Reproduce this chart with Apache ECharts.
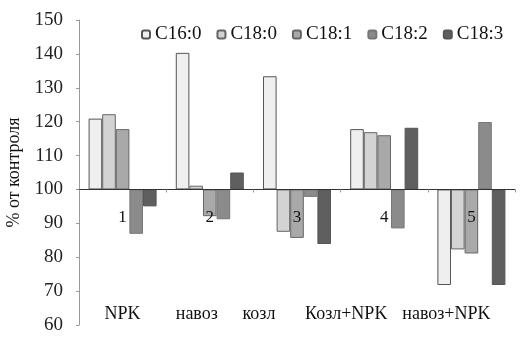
<!DOCTYPE html>
<html><head><meta charset="utf-8">
<script src="https://cdn.jsdelivr.net/npm/echarts@6/dist/echarts.min.js"></script>
<style>html,body{margin:0;padding:0;background:#fff}#c{width:525px;height:337px}</style>
</head><body><div id="c"></div>
<script>
const categories = ['NPK', 'навоз', 'козл', 'Козл+NPK', 'навоз+NPK'];
const groupNumbers = ['1', '2', '3', '4', '5'];
const seriesNames = ['C16:0', 'C18:0', 'C18:1', 'C18:2', 'C18:3'];
const c16_0 = [120.9, 140.3, 133.4, 117.8, 71.8];
const c18_0 = [122.2, 101.1, 87.5, 116.9, 82.3];
const c18_1 = [117.8, 92.1, 85.7, 116.0, 81.1];
const c18_2 = [86.9, 91.2, 97.8, 88.5, 119.9];
const c18_3 = [95.0, 105.0, 83.9, 118.2, 71.8];
const yTicks = [60, 70, 80, 90, 100, 110, 120, 130, 140, 150];
const baseValue = 100;

const values = [c16_0, c18_0, c18_1, c18_2, c18_3];
const fills = ['#efefef', '#d3d3d3', '#a9a9a9', '#8b8b8b', '#5f5f5f'];
const borders = ['#555', '#666', '#666', '#777', '#555'];
const font = 'Liberation Serif';
const shifts = [0, -13, -38, -38, -25];

const W = 525, H = 337;
const grid = { left: 79, right: 10, top: 20, bottom: 12 };
const yMin = yTicks[0] - baseValue, yMax = yTicks[yTicks.length - 1] - baseValue;
const gridH = H - grid.top - grid.bottom;
const zeroOffset = -gridH * (0 - yMin) / (yMax - yMin);

const chart = echarts.init(document.getElementById('c'));
const rich = {};
shifts.forEach((s, i) => { rich['l' + i] = { fontFamily: font, fontSize: 18, color: '#111', padding: [0, -2 * s, 0, 0] }; });

chart.setOption({
  animation: false,
  textStyle: { fontFamily: font },
  grid: Object.assign({ containLabel: false, outerBoundsMode: 'none' }, grid),
  legend: {
    data: seriesNames, top: 20, left: 136, itemWidth: 8, itemHeight: 8, itemGap: 15,
    textStyle: { fontFamily: font, fontSize: 19, color: '#111' }
  },
  xAxis: [{
    type: 'category', data: groupNumbers, z: 5,
    axisLine: { onZero: true, lineStyle: { color: '#333', width: 1 } },
    axisTick: { show: true, length: 3, lineStyle: { color: '#999' } },
    axisLabel: { show: false }
  }, {
    type: 'category', data: categories, position: 'bottom',
    axisLine: { show: false, onZero: false }, axisTick: { show: false },
    axisLabel: {
      inside: true, margin: 2, interval: 0,
      formatter: (v, i) => '{l' + i + '|' + v + '}', rich: rich
    }
  }, {
    type: 'category', data: groupNumbers, position: 'bottom', offset: zeroOffset, z: 5,
    axisLine: { show: false, onZero: false }, axisTick: { show: false },
    axisLabel: { margin: 20, interval: 0, fontFamily: font, fontSize: 17, color: '#111' }
  }],
  yAxis: {
    type: 'value', min: yMin, max: yMax, interval: 10,
    name: '% от контроля', nameLocation: 'middle', nameGap: 55, nameRotate: 90,
    nameTextStyle: { fontFamily: font, fontSize: 18, color: '#111' },
    axisLine: { show: true, lineStyle: { color: '#999' } },
    axisTick: { show: true, length: 3, lineStyle: { color: '#999' } },
    splitLine: { show: false },
    axisLabel: { formatter: v => String(v + baseValue), margin: 16, fontFamily: font, fontSize: 19, color: '#222' }
  },
  series: seriesNames.map((n, i) => ({
    name: n, type: 'bar', xAxisIndex: 0, barGap: '0%', barCategoryGap: '22%',
    data: values[i].map(v => +(v - baseValue).toFixed(2)),
    itemStyle: { color: fills[i], borderColor: borders[i], borderWidth: 1 }
  }))
});
</script></body></html>
